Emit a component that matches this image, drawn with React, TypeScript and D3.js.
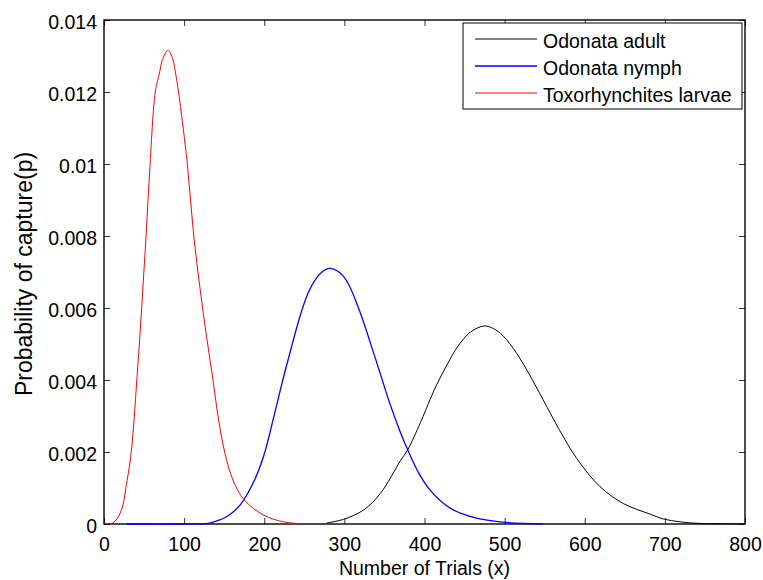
import React, { useEffect, useRef } from 'react';
import * as d3 from 'd3';

// Odonata adult (black)
const adultTrials = [278, 299, 324, 345, 370, 379, 395, 407, 415, 432, 440, 449, 458, 474, 486, 498, 515, 532, 544, 561, 570, 590, 619, 648, 682, 698, 719, 740, 770, 800];
const adultProb = [0.00003, 0.00013, 0.00039, 0.00085, 0.00176, 0.00206, 0.00282, 0.00346, 0.00386, 0.00458, 0.00488, 0.00515, 0.00534, 0.0055, 0.00543, 0.00523, 0.00474, 0.00411, 0.00362, 0.00291, 0.00255, 0.00182, 0.00104, 0.00057, 0.00027, 0.00014, 0.00006, 0.00002, 0.000005, 0];

// Odonata nymph (blue)
const nymphTrials = [28, 100, 130, 137, 153, 170, 186, 199, 211, 222, 232, 245, 255, 265, 272, 281, 292, 303, 318, 338, 357, 369, 379, 392, 407, 432, 465, 498, 548];
const nymphProb = [0, 0, 0.00002, 0.00006, 0.0002, 0.00053, 0.00113, 0.00187, 0.00289, 0.0039, 0.00475, 0.0058, 0.00643, 0.00683, 0.007, 0.0071, 0.00702, 0.00675, 0.00598, 0.00465, 0.00333, 0.0026, 0.00206, 0.00145, 0.00094, 0.00044, 0.00016, 0.00005, 0];

// Toxorhynchites larvae (red)
const larvaeTrials = [8, 14, 22, 28, 34, 41, 47, 52.5, 57.5, 64, 69, 73, 80, 86, 89.5, 93, 104, 112, 123, 136, 143, 151, 161, 175, 199, 224, 250];
const larvaeProb = [0, 0.00008, 0.0004, 0.0011, 0.002, 0.004, 0.006, 0.008, 0.01, 0.012, 0.0125, 0.0129, 0.01316, 0.0129, 0.0125, 0.012, 0.01, 0.008, 0.006, 0.004, 0.0029, 0.00196, 0.00122, 0.00067, 0.00025, 0.00006, 0];

const seriesNames = ['Odonata adult', 'Odonata nymph', 'Toxorhynchites larvae'];
const seriesColors = ['#000000', '#0000ff', '#ff0000'];

const xTickValues = [0, 100, 200, 300, 400, 500, 600, 700, 800];
const yTickValues = [0, 0.002, 0.004, 0.006, 0.008, 0.01, 0.012, 0.014];
const yTickLabels = ['0', '0.002', '0.004', '0.006', '0.008', '0.01', '0.012', '0.014'];

const W = 763;
const H = 580;
const FONT = '"Liberation Sans", Arial, sans-serif';

const App: React.FC = () => {
  const ref = useRef<SVGSVGElement>(null);

  useEffect(() => {
    if (!ref.current) return;
    const svg = d3.select(ref.current);
    svg.selectAll('*').remove();

    const margin = { top: 20, right: 18, bottom: 56, left: 104 };
    const width = W - margin.left - margin.right;
    const height = H - margin.top - margin.bottom;

    const x = d3.scaleLinear().domain([0, 800]).range([0, width]);
    const y = d3.scaleLinear().domain([0, 0.014]).range([height, 0]);

    const g = svg.append('g').attr('transform', `translate(${margin.left},${margin.top})`);

    // ticks on all four sides, pointing inward (matlab style)
    const styleAxis = (sel: d3.Selection<SVGGElement, unknown, null, undefined>) => {
      sel.select('.domain').remove();
      sel.selectAll('.tick line').attr('stroke', '#333').attr('stroke-width', 1);
      sel.selectAll('.tick text')
        .attr('fill', '#000')
        .style('font-family', FONT)
        .style('font-size', '19.5px');
    };

    g.append('g')
      .attr('transform', `translate(0,${height})`)
      .call(d3.axisBottom(x).tickValues(xTickValues).tickSize(-6).tickSizeOuter(0).tickPadding(13).tickFormat(d3.format('d')))
      .call(styleAxis);

    g.append('g')
      .call(d3.axisLeft(y).tickValues(yTickValues).tickSize(-6).tickSizeOuter(0).tickPadding(7)
        .tickFormat((_, i) => yTickLabels[i]))
      .call(styleAxis)
      .selectAll('.tick text')
      .attr('dy', '0.45em');

    g.append('g')
      .call(d3.axisTop(x).tickValues(xTickValues).tickSize(-6).tickSizeOuter(0).tickFormat(() => ''))
      .call(styleAxis);

    g.append('g')
      .attr('transform', `translate(${width},0)`)
      .call(d3.axisRight(y).tickValues(yTickValues).tickSize(-6).tickSizeOuter(0).tickFormat(() => ''))
      .call(styleAxis);

    // box
    g.append('rect')
      .attr('width', width)
      .attr('height', height)
      .attr('fill', 'none')
      .attr('stroke', '#000')
      .attr('stroke-width', 1.4);

    // curves
    const series = [
      { xs: adultTrials, ps: adultProb },
      { xs: nymphTrials, ps: nymphProb },
      { xs: larvaeTrials, ps: larvaeProb }
    ];

    const line = d3.line<[number, number]>()
      .x(d => x(d[0]))
      .y(d => y(Math.max(0, d[1])))
      .curve(d3.curveCatmullRom.alpha(0.5));

    series.forEach((s, i) => {
      const pts = s.xs.map((v, j) => [v, s.ps[j]] as [number, number]);
      g.append('path')
        .datum(pts)
        .attr('fill', 'none')
        .attr('stroke', seriesColors[i])
        .attr('stroke-width', i === 1 ? 1.3 : 1)
        .attr('d', line);
    });

    // axis labels
    svg.append('text')
      .attr('x', margin.left + width / 2)
      .attr('y', 575)
      .attr('text-anchor', 'middle')
      .style('font-family', FONT)
      .style('font-size', '19.5px')
      .text('Number of Trials (x)');

    svg.append('text')
      .attr('transform', `translate(31.5,${margin.top + 254}) rotate(-90)`)
      .attr('text-anchor', 'middle')
      .style('font-family', FONT)
      .style('font-size', '23px')
      .text('Probability of capture(p)');

    // legend
    const legend = svg.append('g').attr('transform', 'translate(463,23)');
    legend.append('rect')
      .attr('width', 279)
      .attr('height', 86)
      .attr('fill', '#fff')
      .attr('stroke', '#000')
      .attr('stroke-width', 1);

    seriesNames.forEach((name, i) => {
      const base = 25 + i * 27;
      legend.append('line')
        .attr('x1', 12)
        .attr('x2', 74)
        .attr('y1', base - 9)
        .attr('y2', base - 9)
        .attr('stroke', seriesColors[i])
        .attr('stroke-width', i === 1 ? 1.3 : 1);
      legend.append('text')
        .attr('x', 80)
        .attr('y', base)
        .style('font-family', FONT)
        .style('font-size', '19.5px')
        .text(name);
    });
  }, []);

  return (
    <svg
      ref={ref}
      width={W}
      height={H}
      style={{ position: 'absolute', left: 0, top: 0, background: '#fff' }}
    />
  );
};

export default App;
